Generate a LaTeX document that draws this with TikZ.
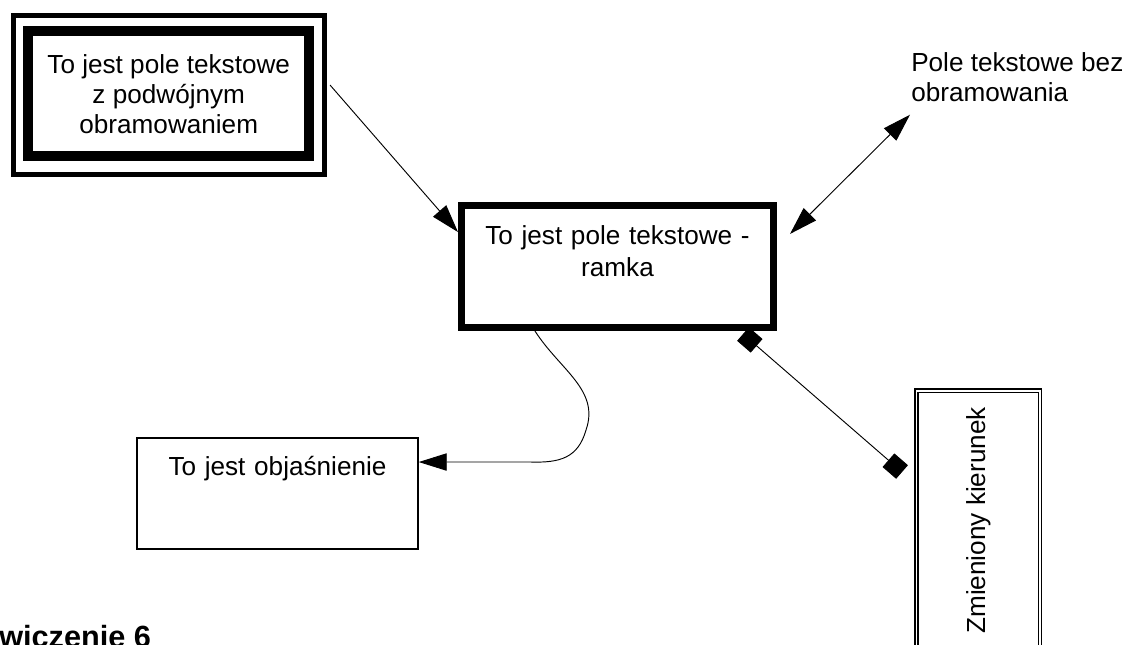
\documentclass[tikz,border=0pt]{standalone}
\usepackage{fontspec}
\setmainfont{Liberation Sans}
\usetikzlibrary{arrows.meta}

\begin{document}
\begin{tikzpicture}[
    x=0.75pt, y=-0.75pt,
    txt/.style={font=\fontsize{19.6pt}{22.5pt}\selectfont, align=center},
    dblbox/.style={rectangle, draw, line width=7.5pt, outer sep=0pt, inner sep=0pt, minimum width=211.1pt, minimum height=93.75pt, txt},
    dblring/.style={rectangle, draw, line width=3.75pt, minimum width=233.6pt, minimum height=118.9pt},
    ramkabox/.style={rectangle, draw, line width=5.25pt, inner sep=0pt, minimum width=234pt, text width=225pt, text height=29.25pt, text depth=61.9pt, txt, font=\fontsize{19.6pt}{24pt}\selectfont},
    notebox/.style={rectangle, draw, line width=1.1pt, inner sep=0pt, minimum width=210.75pt, text width=200pt, text height=27.75pt, text depth=55.5pt, txt},
    turnbox/.style={rectangle, draw, double, line width=1.2pt, double distance=1.1pt, rotate=90, minimum width=194.4pt, minimum height=92.5pt, txt},
    plain/.style={inner sep=0pt, anchor=north west, font=\fontsize{19.6pt}{22.5pt}\selectfont, align=left},
    arrow/.style={-{Triangle[length=21pt,width=13pt]}, line width=0.7pt},
    both/.style={{Triangle[length=21pt,width=13pt]}-{Triangle[length=21pt,width=13pt]}, line width=0.7pt},
    link/.style={{Square[length=13.5pt,width=13.5pt]}-{Square[length=13.5pt,width=13.5pt]}, line width=0.7pt}
]
\useasboundingbox (0,0) rectangle (1130,645);

% Text boxes
\node[dblring] (dblout) at (169.25,94.75) {};
\node[dblbox] (dbl) at (168.75,94) {To jest pole tekstowe\\z podwójnym\\obramowaniem};
\node[ramkabox] (main) at (617.5,266.75) {To jest pole tekstowe -\\ramka};
\node[notebox] (note) at (277.5,493.5) {To jest objaśnienie};
\node[turnbox] (turned) at (978.3,520.4) {Zmieniony kierunek};
\node[plain] (bare) at (911,52) {Pole tekstowe bez\\obramowania};

% Title
\node[anchor=base west, inner sep=0pt, font=\fontsize{23pt}{26pt}\selectfont\bfseries] (title) at (-1,647) {wiczenie 6};

% Connectors
\draw[arrow] ([shift={(1.9pt,7.3pt)}]dblout.east) -- ([yshift=26pt]main.west);
\draw[both] ([shift={(9.75pt,24.6pt)}]main.east) -- ([shift={(-0.75pt,-9.75pt)}]bare.south west);
\draw[arrow] ([xshift=-61.9pt]main.south) .. controls (560,370) and (600,390) .. (586,430)
    .. controls (578,458) and (560,463) .. (530,462) -- ([yshift=23.6pt]note.east);
\draw[link] ([shift={(-25.5pt,-2.25pt)}]main.south east) -- ([shift={(-10.35pt,36.3pt)}]turned.north);

\end{tikzpicture}
\end{document}
